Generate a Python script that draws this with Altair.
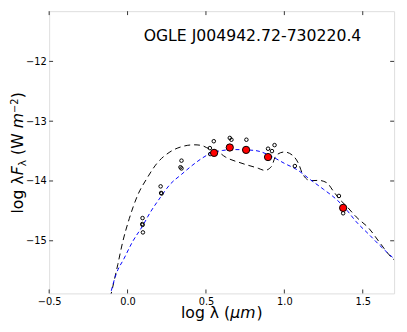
import altair as alt
import pandas as pd

# ---- data ----
black_x = [-0.11, -0.0625, -0.031, 0.011, 0.0625, 0.125, 0.1875, 0.27, 0.354, 0.425, 0.47, 0.52, 0.5625,
           0.625, 0.73, 0.833, 0.875, 0.917, 0.948, 1.0, 1.052, 1.094, 1.114, 1.167, 1.219, 1.271,
           1.3125, 1.354, 1.396, 1.458, 1.542, 1.604, 1.6875, 1.7]
black_y = [-15.95, -15.40, -15.02, -14.63, -14.25, -13.95, -13.705, -13.515, -13.42, -13.395, -13.405,
           -13.46, -13.487, -13.60, -13.705, -13.787, -13.823, -13.76, -13.57, -13.515, -13.57, -13.73,
           -13.87, -13.995, -13.99, -14.03, -14.17, -14.31, -14.42, -14.60, -14.80, -15.016, -15.29, -15.32]

blue_x = [-0.115, -0.073, -0.021, 0.031, 0.094, 0.146, 0.208, 0.27, 0.344, 0.417, 0.469, 0.52, 0.604,
          0.6875, 0.8125, 0.927, 1.0, 1.083, 1.167, 1.25, 1.333, 1.396, 1.458, 1.542, 1.625, 1.7]
blue_y = [-15.95, -15.56, -15.29, -15.02, -14.76, -14.52, -14.28, -14.06, -13.89, -13.73, -13.63, -13.55,
          -13.49, -13.475, -13.49, -13.60, -13.705, -13.815, -13.98, -14.14, -14.31, -14.48, -14.68,
          -14.90, -15.12, -15.30]

red_x = [0.552, 0.652, 0.756, 0.896, 1.375]
red_y = [-13.53, -13.44, -13.48, -13.60, -14.45]

open_x = [0.0956, 0.094, 0.096, 0.098, 0.211, 0.217, 0.214, 0.344, 0.3375, 0.344, 0.55, 0.525, 0.527,
          0.652, 0.6625, 0.758, 0.896, 0.921, 0.9375, 1.067, 1.348, 1.375]
open_y = [-14.62, -14.72, -14.735, -14.86, -14.09, -14.21, -14.20, -13.66, -13.77, -13.79, -13.335,
          -13.45, -13.55, -13.28, -13.31, -13.31, -13.46, -13.50, -13.40, -13.75, -14.25, -14.54]

x_ticks = [-0.5, 0.0, 0.5, 1.0, 1.5]
y_ticks = [-15, -14, -13, -12]

title_text = ["OGLE J004942.72-730220.4"]
ytitle_parts = ["log λ", "F", "λ", "(W", "m", "−2", ")"]
xtitle_parts = ["log λ (", "μm", ")"]

# ---- chart ----
W, H = 352, 288
FONT = "DejaVu Sans"
FRAME = "#333333"

xs = alt.Scale(domain=[-0.5, 1.7], nice=False, zero=False)
ys = alt.Scale(domain=[-15.88, -11.16], nice=False, zero=False)
xaxis = alt.Axis(values=x_ticks, format=".1f", ticks=False, domain=False, grid=False, title=None,
                 labelFont=FONT, labelFontSize=10, labelColor="black", labelPadding=3,
                 labelFlush=False, labelOverlap=False)
yaxis = alt.Axis(values=y_ticks, format="d", ticks=False, domain=False, grid=False, title=None,
                 labelFont=FONT, labelFontSize=10, labelColor="black", labelPadding=3,
                 labelFlush=False, labelOverlap=False)

X = alt.X("x:Q", scale=xs, axis=xaxis)
Y = alt.Y("y:Q", scale=ys, axis=yaxis)

black = pd.DataFrame({"x": black_x, "y": black_y})
blue = pd.DataFrame({"x": blue_x, "y": blue_y})
red = pd.DataFrame({"x": red_x, "y": red_y})
opn = pd.DataFrame({"x": open_x, "y": open_y})
xt = pd.DataFrame({"x": x_ticks})
yt = pd.DataFrame({"y": y_ticks})

black_line = alt.Chart(black).mark_line(color="black", strokeWidth=1, strokeDash=[6, 4], clip=True,
                                        interpolate="monotone").encode(x=X, y=Y)
blue_line = alt.Chart(blue).mark_line(color="blue", strokeWidth=1, strokeDash=[4, 3], clip=True,
                                      interpolate="monotone").encode(x=X, y=Y)
open_pts = alt.Chart(opn).mark_point(shape="circle", filled=False, color="black", size=13,
                                     strokeWidth=1, opacity=1).encode(x=X, y=Y)
red_pts = alt.Chart(red).mark_point(shape="circle", filled=True, fill="red", stroke="black",
                                    strokeWidth=1, size=55, opacity=1).encode(x=X, y=Y)

tb = alt.Chart(xt).mark_rule(color=FRAME, strokeWidth=1).encode(x=X, y=alt.value(H), y2=alt.value(H - 4))
tt = alt.Chart(xt).mark_rule(color=FRAME, strokeWidth=1).encode(x=X, y=alt.value(0), y2=alt.value(4))
tl = alt.Chart(yt).mark_rule(color=FRAME, strokeWidth=1).encode(y=Y, x=alt.value(0), x2=alt.value(4))
tr = alt.Chart(yt).mark_rule(color=FRAME, strokeWidth=1).encode(y=Y, x=alt.value(W - 4), x2=alt.value(W))

title = alt.Chart(pd.DataFrame({"t": title_text})).mark_text(
    font=FONT, fontSize=16, align="center", baseline="alphabetic", color="black"
).encode(text="t:N", x=alt.value(207.5), y=alt.value(30.5))

# y-axis title assembled from pieces (rotated, read bottom to top)
yb = -27
y_start = 206.5
sizes = [16, 16, 11, 16, 16, 10, 16]
styles = ["normal", "italic", "normal", "normal", "italic", "normal", "normal"]
xoffs = [0, 0, 3.5, 0, 0, -5, 0]
advance = [38.96, 9.2, 6.5 + 5.1, 22.06 + 5.1, 15.6, 15.2, 6.24]
ylayers = []
pos = y_start
for part, sz, st, xo, adv in zip(ytitle_parts, sizes, styles, xoffs, advance):
    ylayers.append(
        alt.Chart(pd.DataFrame({"t": [part]})).mark_text(
            font=FONT, fontSize=sz, fontStyle=st, angle=270, align="left", baseline="alphabetic",
            color="black"
        ).encode(text="t:N", x=alt.value(yb + xo), y=alt.value(pos))
    )
    pos -= adv

# x-axis title assembled from pieces
xb = 313.5
x_start = 134.5
xstyles = ["normal", "italic", "normal"]
xadv = [50.3, 26.8, 6.2]
xlayers = []
p = x_start
for part, st, adv in zip(xtitle_parts, xstyles, xadv):
    xlayers.append(
        alt.Chart(pd.DataFrame({"t": [part]})).mark_text(
            font=FONT, fontSize=16, fontStyle=st, align="left", baseline="alphabetic", color="black"
        ).encode(text="t:N", x=alt.value(p), y=alt.value(xb))
    )
    p += adv

chart = alt.layer(
    black_line, blue_line, open_pts, red_pts, tb, tt, tl, tr, title, *ylayers, *xlayers
).properties(
    width=W, height=H,
    autosize=alt.AutoSizeParams(type="none"),
    padding={"left": 42, "top": 0, "right": 5, "bottom": 28},
).configure_view(
    stroke=FRAME, strokeWidth=1
).configure(background="white")

chart.save("out.html", embed_options={"renderer": "svg", "actions": False})
